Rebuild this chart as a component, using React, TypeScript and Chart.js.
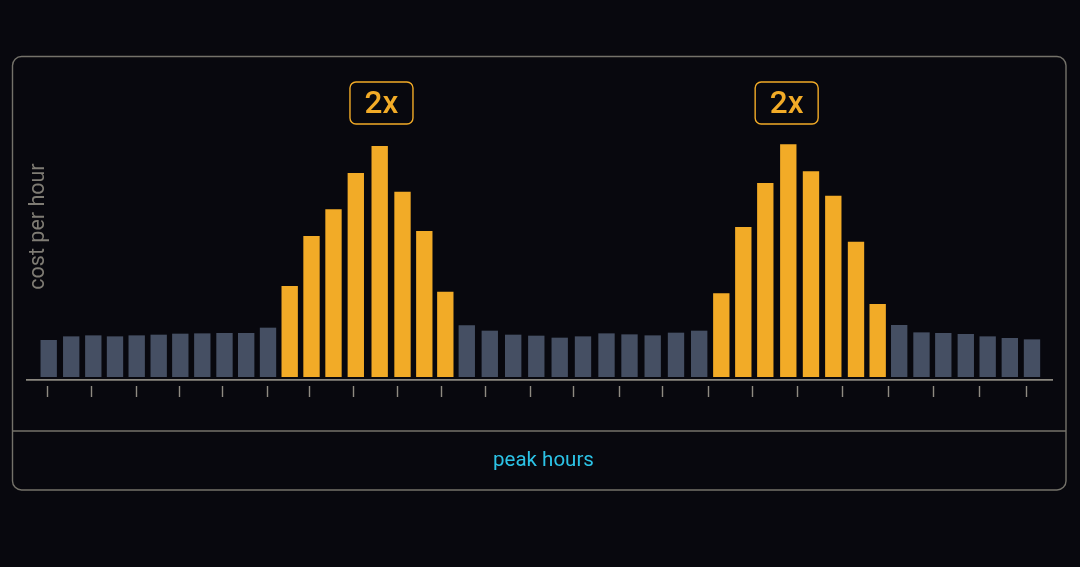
import React, { useEffect, useRef } from "react";
import { Chart, registerables } from "chart.js";

Chart.register(...registerables);

// Hour position of each bar
const barHours = [
  0.974, 1.984, 2.975, 3.949, 4.923, 5.91, 6.88, 7.867, 8.863, 9.837, 10.816,
  11.789, 12.768, 13.755, 14.756, 15.828, 16.852, 17.83, 18.773,
  19.737, 20.769, 21.82, 22.856, 23.907, 24.952, 26.007, 27.039, 28.08, 29.126, 30.167,
  31.159, 32.146, 33.133, 34.165, 35.184, 36.185, 37.204, 38.177,
  39.142, 40.143, 41.121, 42.131, 43.113, 44.106, 45.102,
];
const costPerHour = [
  36.4, 40, 41, 40, 41, 41.7, 42.7, 43, 43.4, 43.4, 48.7,
  90.4, 140.4, 167, 203.4, 230.4, 184.7, 145.4, 84.7,
  51, 45.7, 41.7, 40.7, 38.7, 40, 43, 42, 41, 43.7, 45.7,
  83, 149.4, 193.4, 232, 205, 180.7, 134.7, 72.4,
  51.4, 44, 43.4, 42.4, 40, 38.4, 37,
];
const isPeak = [
  0, 0, 0, 0, 0, 0, 0, 0, 0, 0, 0,
  1, 1, 1, 1, 1, 1, 1, 1,
  0, 0, 0, 0, 0, 0, 0, 0, 0, 0, 0,
  1, 1, 1, 1, 1, 1, 1, 1,
  0, 0, 0, 0, 0, 0, 0,
];
const tickHours = [
  0.942, 2.917, 4.892, 6.835, 8.796, 10.793, 12.7, 14.675, 16.636, 18.602, 20.599,
  22.574, 24.548, 26.568, 28.542, 30.562, 32.581, 34.579, 36.607, 38.64, 40.704, 42.768, 44.878,
];
const badgeHours = [15.908, 34.092];
const badgeLevel = 273.7;
const badgeLabel = "2x";
const yTitle = "cost per hour";
const xCaption = "peak hours";

const BG = "#08080e";
const LINE = "#74726a";
const ORANGE = "#f2ab27";
const SLATE = "#454f63";
const FONT = "Roboto, 'Noto Sans', sans-serif";

const roundRect = (ctx: CanvasRenderingContext2D, x: number, y: number, w: number, h: number, r: number) => {
  ctx.beginPath();
  ctx.roundRect(x, y, w, h, r);
};

const framePlugin = {
  id: "frame",
  beforeDraw(chart: any) {
    const { ctx, width, height } = chart;
    ctx.save();
    ctx.fillStyle = BG;
    ctx.fillRect(0, 0, width, height);
    ctx.strokeStyle = LINE;
    ctx.lineWidth = 1.4;
    roundRect(ctx, 12.5, 56.5, 1053.5, 433.5, 9);
    ctx.stroke();
    ctx.beginPath();
    ctx.moveTo(12.5, 431);
    ctx.lineTo(1066, 431);
    ctx.stroke();
    ctx.restore();
  },
  afterDraw(chart: any) {
    const { ctx, scales } = chart;
    ctx.save();
    ctx.textAlign = "center";
    ctx.textBaseline = "middle";
    badgeHours.forEach((h) => {
      const cx = scales.x.getPixelForValue(h);
      const cy = scales.y.getPixelForValue(badgeLevel);
      ctx.strokeStyle = ORANGE;
      ctx.lineWidth = 1.4;
      roundRect(ctx, cx - 31.5, cy - 21, 63, 42, 6);
      ctx.stroke();
      ctx.fillStyle = ORANGE;
      ctx.font = `500 31.5px ${FONT}`;
      ctx.fillText(badgeLabel, cx, cy + 2);
    });
    ctx.fillStyle = "#2cc3e6";
    ctx.font = `400 20.5px ${FONT}`;
    ctx.fillText(xCaption, 543.5, 460.5);
    ctx.restore();
  },
};

export default function App() {
  const ref = useRef<HTMLCanvasElement>(null);
  useEffect(() => {
    document.body.style.margin = "0";
    document.body.style.background = BG;
    const chart = new Chart(ref.current!, {
      type: "bar",
      data: {
        datasets: [
          {
            label: yTitle,
            data: barHours.map((x, i) => ({ x, y: costPerHour[i] })),
            backgroundColor: isPeak.map((p) => (p ? ORANGE : SLATE)),
            barThickness: 15.7,
            base: 0,
          },
        ],
      },
      options: {
        animation: false,
        responsive: false,
        devicePixelRatio: 1,
        layout: { padding: { left: 27, right: 28, top: 73, bottom: 170 } },
        plugins: { legend: { display: false }, tooltip: { enabled: false } },
        scales: {
          x: {
            type: "linear",
            min: 0,
            max: 46,
            offset: false,
            weight: 0,
            grid: { offset: false, drawOnChartArea: false, drawTicks: false },
            border: { color: "#8a877f", width: 1.7 },
            ticks: { display: false },
            afterFit(scale: any) {
              scale.height = 6;
            },
          },
          hourTicks: {
            type: "linear",
            axis: "x",
            position: "bottom",
            min: 0,
            max: 46,
            offset: false,
            weight: 1,
            grid: {
              offset: false,
              drawOnChartArea: false,
              tickLength: 11,
              tickColor: "#8f8b82",
              tickWidth: 1.4,
            },
            border: { display: false },
            ticks: { display: false, autoSkip: false },
            afterBuildTicks(scale: any) {
              scale.ticks = tickHours.map((value) => ({ value }));
            },
          },
          y: {
            min: -3.3,
            max: 303.7,
            grid: { display: false },
            border: { display: false },
            ticks: { display: false },
            title: {
              display: true,
              text: yTitle,
              color: "#7f7c74",
              font: { family: FONT, size: 21.5, weight: "400" },
              padding: { top: -1, bottom: 0 },
            },
            afterFit(scale: any) {
              scale.width = 0;
            },
          },
        },
      } as any,
      plugins: [framePlugin],
    });
    return () => chart.destroy();
  }, []);
  return <canvas ref={ref} width={1080} height={567} style={{ display: "block" }} />;
}
